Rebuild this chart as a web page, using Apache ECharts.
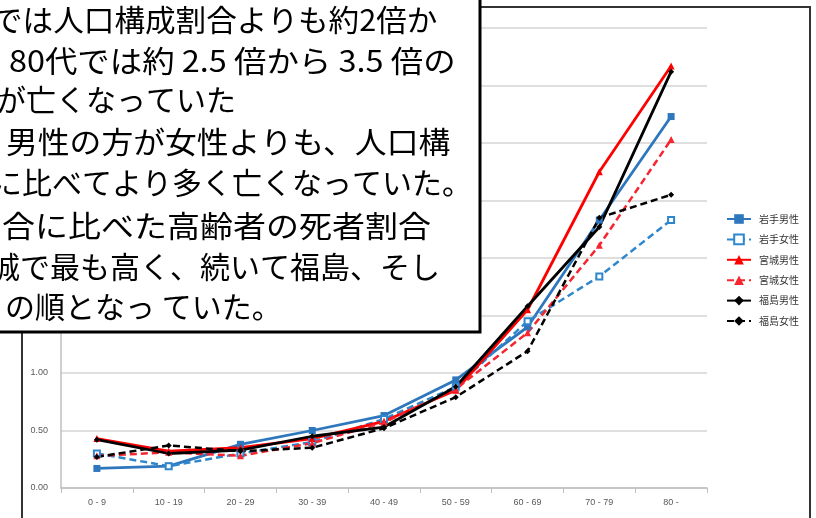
<!DOCTYPE html>
<html>
<head>
<meta charset="utf-8">
<script src="https://cdn.jsdelivr.net/npm/echarts@6/dist/echarts.min.js"></script>
<style>
  html, body { margin: 0; padding: 0; background: #fff; }
  #main { width: 816px; height: 518px; }
</style>
</head>
<body>
<div id="main"></div>
<script>
// 年齢階級
var ageGroups = ['0 - 9', '10 - 19', '20 - 29', '30 - 39', '40 - 49', '50 - 59', '60 - 69', '70 - 79', '80 -'];
// 人口構成割合に対する死者割合の比
var iwateMale      = [0.17, 0.19, 0.38, 0.50, 0.63, 0.94, 1.40, 2.33, 3.23];
var iwateFemale    = [0.30, 0.19, 0.30, 0.40, 0.60, 0.88, 1.45, 1.84, 2.33];
var miyagiMale     = [0.43, 0.32, 0.35, 0.43, 0.58, 0.85, 1.55, 2.75, 3.67];
var miyagiFemale   = [0.28, 0.31, 0.28, 0.39, 0.57, 0.86, 1.35, 2.11, 3.03];
var fukushimaMale  = [0.42, 0.30, 0.33, 0.45, 0.53, 0.88, 1.58, 2.27, 3.62];
var fukushimaFemale= [0.27, 0.37, 0.32, 0.35, 0.52, 0.79, 1.19, 2.35, 2.55];
var yTicks = { min: 0, max: 4, interval: 0.5 };

// 左上の説明文（テキストボックス）
var noteLines = [
    'では人口構成割合よりも約2倍か',
    '80代では約 2.5 倍から 3.5 倍の',
    'が亡くなっていた',
    '男性の方が女性よりも、人口構',
    'に比べてより多く亡くなっていた。',
    '割合に比べた高齢者の死者割合',
    '城で最も高く、続いて福島、そし',
    'の順となっ ていた。'
];

var dom = document.getElementById('main');
var myChart = echarts.init(dom);

// 両端揃えの行は少し横に広げる
var noteX = [-8, 9, -4, 6, -8, -31, -10, 5];
var noteY = [20, 61, 100, 142, 183, 226, 267, 307];
var noteScale = [1.02, 1.08, 1, 1.06, 1, 1.1, 1, 1];
var noteGraphic = [{
    type: 'rect',
    z: 100,
    shape: { x: -10, y: -10, width: 490, height: 342 },
    style: { fill: '#fff', stroke: '#000', lineWidth: 3 }
}];
for (let i = 0; i < noteLines.length; i++) {
    noteGraphic.push({
        type: 'text',
        z: 101,
        x: noteX[i],
        y: noteY[i],
        scaleX: noteScale[i],
        style: {
            text: noteLines[i],
            fill: '#000',
            font: '30px "Noto Sans CJK JP"',
            verticalAlign: 'middle'
        }
    });
}

function lineSeries(name, data, color, dashed, symbol, size) {
    return {
        name: name,
        type: 'line',
        data: data,
        symbol: symbol,
        symbolSize: size,
        showAllSymbol: true,
        lineStyle: { color: color, width: dashed ? 2.5 : 2.8, type: dashed ? [7, 4] : 'solid' },
        itemStyle: { color: color, borderColor: color, borderWidth: symbol.indexOf('empty') === 0 ? 1.5 : 0 },
        emphasis: { disabled: true },
        animation: false
    };
}

var option = {
    animation: false,
    grid: { left: 61, right: 109, top: 28, bottom: 30 },
    legend: {
        orient: 'vertical',
        left: 721,
        top: 208,
        itemWidth: 24,
        itemHeight: 12,
        itemGap: 8.4,
        textStyle: {
            fontSize: 10,
            lineHeight: 12,
            color: '#333',
            fontFamily: 'Noto Sans CJK JP',
            padding: [0, 0, 0, 3]
        },
        data: ['岩手男性', '岩手女性', '宮城男性', '宮城女性', '福島男性', '福島女性']
    },
    xAxis: {
        type: 'category',
        data: ageGroups,
        boundaryGap: true,
        axisLine: { lineStyle: { color: '#bfbfbf', width: 1.5 } },
        axisTick: { show: true, length: 5, lineStyle: { color: '#bfbfbf' } },
        axisLabel: { fontSize: 9, color: '#595959', margin: 10, fontFamily: 'Liberation Sans' },
        splitLine: { show: false }
    },
    yAxis: {
        type: 'value',
        min: yTicks.min,
        max: yTicks.max,
        interval: yTicks.interval,
        axisLine: { show: true, lineStyle: { color: '#bfbfbf', width: 1.5 } },
        axisTick: { show: false },
        axisLabel: {
            fontSize: 9,
            color: '#595959',
            margin: 13,
            fontFamily: 'Liberation Sans',
            formatter: function (v) { return v.toFixed(2); }
        },
        splitLine: { lineStyle: { color: '#d4d4d4', width: 1.5 } }
    },
    graphic: [{
        type: 'rect',
        z: 50,
        shape: { x: 22, y: 7, width: 788, height: 540 },
        style: { fill: 'none', stroke: '#333', lineWidth: 2 }
    }].concat(noteGraphic),
    series: [
        lineSeries('岩手男性', iwateMale, '#2e77bd', false, 'rect', 7),
        lineSeries('岩手女性', iwateFemale, '#2e86cc', true, 'emptyRect', 6),
        lineSeries('宮城男性', miyagiMale, '#ff0000', false, 'triangle', 7),
        lineSeries('宮城女性', miyagiFemale, '#f52630', true, 'triangle', 7),
        lineSeries('福島男性', fukushimaMale, '#000000', false, 'diamond', 6),
        lineSeries('福島女性', fukushimaFemale, '#000000', true, 'diamond', 6)
    ]
};

if (option && typeof option === 'object') {
    myChart.setOption(option);
}
</script>
</body>
</html>
